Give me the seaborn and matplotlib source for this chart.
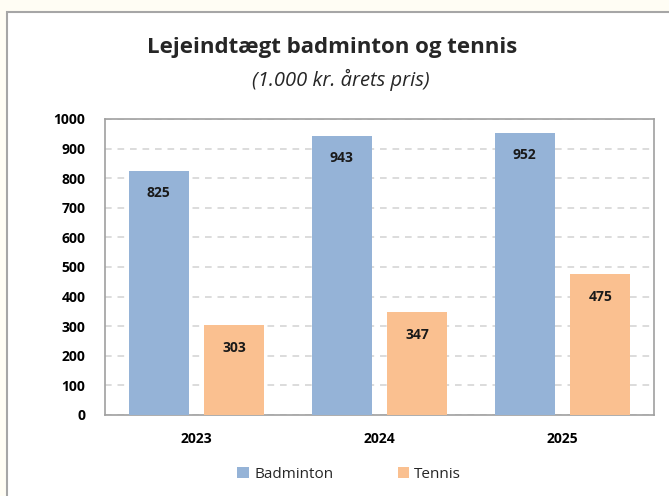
import matplotlib
matplotlib.use("Agg")
import matplotlib.pyplot as plt
import seaborn as sns
import pandas as pd
from matplotlib.patches import Rectangle

years = ["2023", "2024", "2025"]
badminton = [825, 943, 952]
tennis = [303, 347, 475]
series = ["Badminton", "Tennis"]
yticks = [0, 100, 200, 300, 400, 500, 600, 700, 800, 900, 1000]

df = pd.DataFrame({
    "År": years * 2,
    "Værdi": badminton + tennis,
    "Serie": [series[0]] * len(years) + [series[1]] * len(years),
})

sns.set_theme(style="white")
plt.rcParams['font.family'] = ['Open Sans', 'DejaVu Sans']

W, H = 669, 496
fig = plt.figure(figsize=(W / 100, H / 100), dpi=100)
fig.patch.set_facecolor("#FFFDF4")
# white chart area with gray border
fig.patches.append(Rectangle((7 / W, -0.01), 1, 1 - 12 / H + 0.01, transform=fig.transFigure,
                             facecolor="white", edgecolor="#A6A6A6", linewidth=1.5, zorder=-10))

ax = fig.add_axes([105 / W, 1 - 415 / H, (654 - 105) / W, (415 - 119) / H])
ax.set_zorder(5)
palette = {"Badminton": "#95B3D7", "Tennis": "#FAC090"}
sns.barplot(data=df, x="År", y="Værdi", hue="Serie", palette=palette, ax=ax,
            width=0.83, gap=0.21, saturation=1, linewidth=0, legend=True, zorder=3)

ax.set_ylim(0, 1000)
ax.set_yticks(yticks)
ax.set_xlabel("")
ax.set_ylabel("")
ax.yaxis.grid(True, linestyle=(0, (4, 3.5)), color="#D6D6D6", linewidth=1.2, zorder=0)
ax.set_axisbelow(True)
for s in ax.spines.values():
    s.set_color("#A0A0A0")
    s.set_linewidth(1.2)
ax.tick_params(axis="y", length=0, labelsize=10, colors="black", pad=14)
ax.tick_params(axis="x", length=0, labelsize=10, colors="black", pad=12)
for lab in ax.get_xticklabels() + ax.get_yticklabels():
    lab.set_fontweight("bold")

for cont in ax.containers:
    for bar in cont:
        h = bar.get_height()
        ax.annotate(f"{h:.0f}", (bar.get_x() + bar.get_width() / 2, h),
                    xytext=(0, -16), textcoords="offset points",
                    ha="center", va="center", fontsize=10, fontweight="bold", color="#1a1a1a")

ax.legend(loc="upper center", bbox_to_anchor=(0.445, -0.13), ncol=2, frameon=False,
          handlelength=0.75, handleheight=0.75, handletextpad=0.35, columnspacing=4.2, fontsize=11)

fig.text(0.497, 1 - 47 / H, "Lejeindtægt badminton og tennis", ha="center", va="center",
         fontsize=16, fontweight="bold")
fig.text(0.51, 1 - 80 / H, "(1.000 kr. årets pris)", ha="center", va="center",
         fontsize=14.5, fontstyle="italic")

fig.savefig("out.png", dpi=100, facecolor=fig.get_facecolor())
